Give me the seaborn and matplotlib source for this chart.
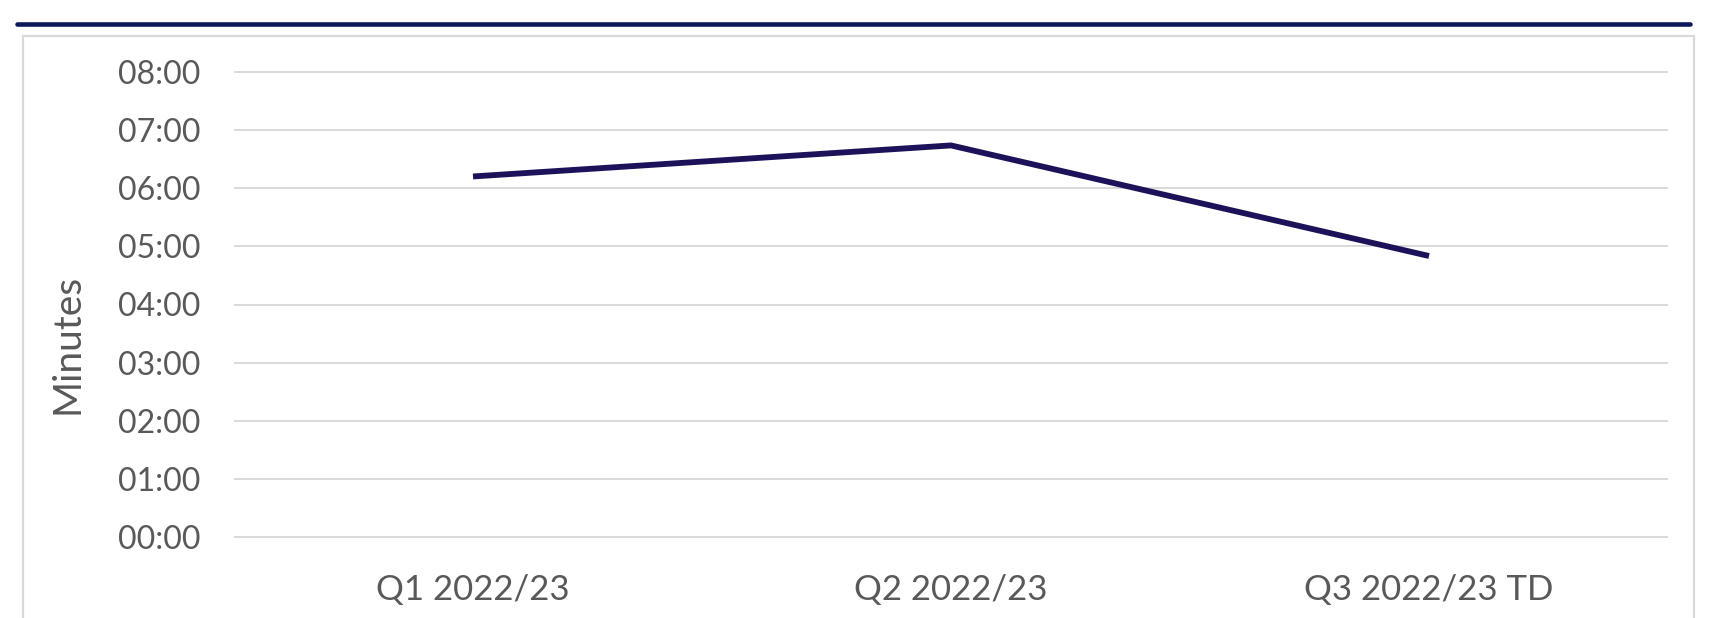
import matplotlib
matplotlib.use("Agg")
import matplotlib.pyplot as plt
from matplotlib.lines import Line2D
from matplotlib.patches import Rectangle
from matplotlib.ticker import FuncFormatter, MultipleLocator
import seaborn as sns
import pandas as pd

# ---- data ----
quarters = ["Q1 2022/23", "Q2 2022/23", "Q3 2022/23 TD"]
avg_seconds = [372, 404, 290]          # 06:12, 06:44, 04:50
y_label = "Minutes"

df = pd.DataFrame({"quarter": quarters, "minutes": [s / 60 for s in avg_seconds]})

sns.set_theme(style="white")
plt.rcParams["font.family"] = ["Lato", "DejaVu Sans"]

W, H, DPI = 1714, 618, 100
fig = plt.figure(figsize=(W / DPI, H / DPI), dpi=DPI)

# axes placement (pixels)
x0, x1 = 234, 1668
ytop, ybot = 71.7, 537.3
pad = 0.05 * (ybot - ytop) / 8
ax_h = ybot - ytop + 2 * pad
ax = fig.add_axes([x0 / W, 1 - (ybot + pad) / H, (x1 - x0) / W, ax_h / H])

sns.lineplot(data=df, x="quarter", y="minutes", ax=ax, color="#1c1259",
             linewidth=4.2, sort=False, solid_capstyle="butt", solid_joinstyle="miter")

ax.set_xlim(-0.5, 2.5)
ax.set_ylim(-0.05, 8.05)
ax.yaxis.set_major_locator(MultipleLocator(1))
ax.yaxis.set_major_formatter(FuncFormatter(lambda v, p: f"{int(round(v)):02d}:00"))
ax.grid(axis="y", color="#d9d9d9", linewidth=1.4)
ax.grid(axis="x", visible=False)
for s in ax.spines.values():
    s.set_visible(False)
ax.tick_params(axis="both", length=0, labelcolor="#595959")
ax.tick_params(axis="y", pad=24, labelsize=23)
ax.tick_params(axis="x", pad=24, labelsize=25)
ax.set_xlabel("")
ax.set_ylabel(y_label, fontsize=28, color="#595959")
ax.yaxis.set_label_coords((86 - x0) / (x1 - x0), (ybot + pad - 344) / ax_h)

# chart frame
fig.patches.append(Rectangle((22.7 / W, -0.05), (1694 - 22.7) / W, 1 - 35.7 / H + 0.05,
                             transform=fig.transFigure, fill=False,
                             edgecolor="#d9d9d9", linewidth=1.6))
# top navy rule
fig.lines.append(Line2D([17 / W, 1690 / W], [1 - 24 / H, 1 - 24 / H],
                        transform=fig.transFigure, color="#0c1a5c", linewidth=3.3))

fig.savefig("out.png", dpi=DPI, facecolor="white")
